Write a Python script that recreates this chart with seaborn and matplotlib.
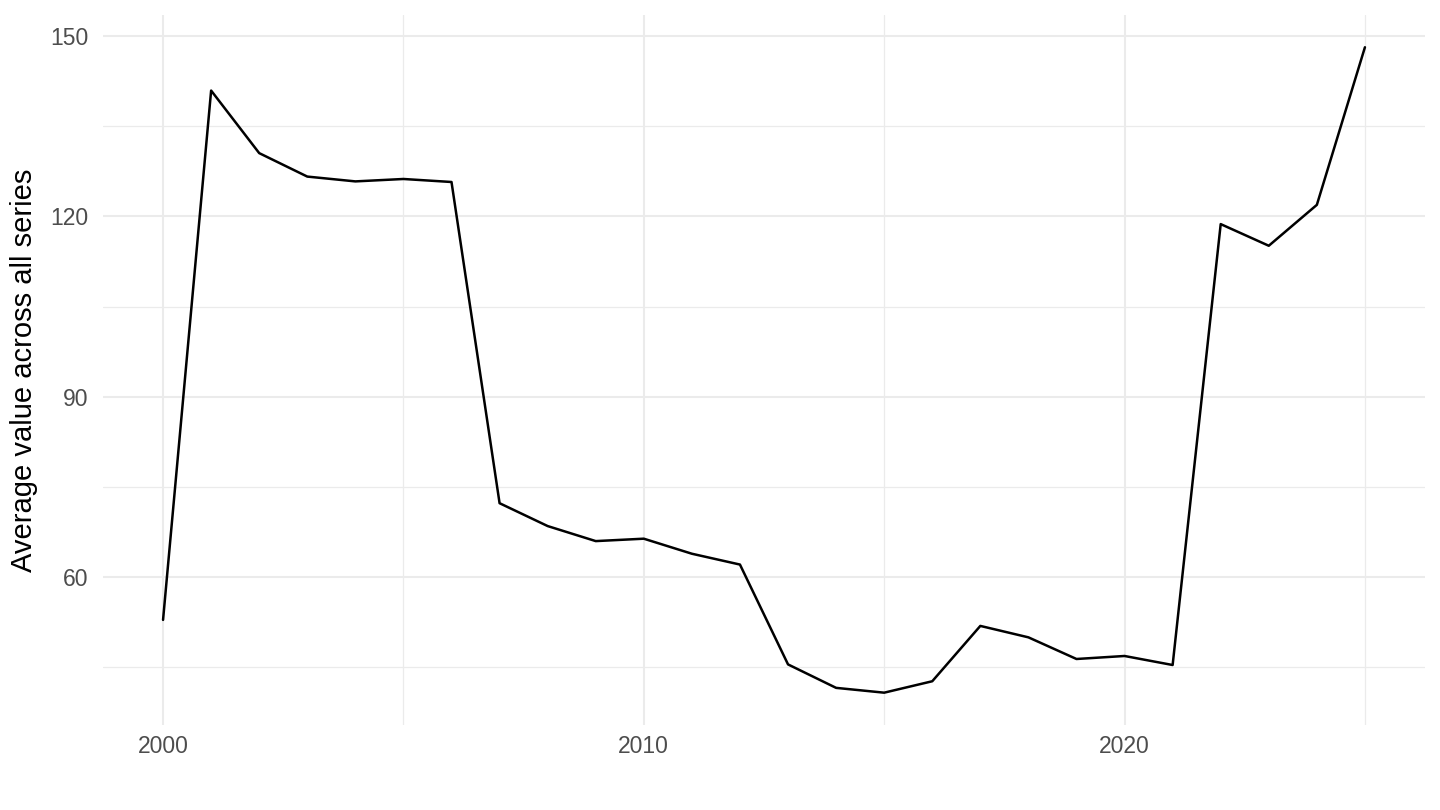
import numpy as np
import pandas as pd
import seaborn as sns
import matplotlib
matplotlib.use("Agg")
from matplotlib import pyplot as plt
from matplotlib.ticker import MultipleLocator

# data
years = list(range(2000, 2026))
avg_values = [52.9, 140.9, 130.5, 126.6, 125.8, 126.2, 125.7, 72.3, 68.5, 66.0,
              66.4, 63.9, 62.1, 45.5, 41.6, 40.8, 42.7, 51.9, 50.0, 46.4,
              46.9, 45.4, 118.7, 115.1, 121.9, 148.1]

df = pd.DataFrame({"year": years, "value": avg_values})

sns.set_theme(style="white")
plt.rcParams["font.family"] = ["Liberation Sans", "DejaVu Sans"]

fig = plt.figure(figsize=(14.4, 8.1), dpi=100)
ax = fig.add_axes([0.0715, 0.105, 0.9181, 0.8765])

sns.lineplot(data=df, x="year", y="value", color="black", linewidth=1.8, ax=ax)

# ggplot-style expansion of 5%
xr = max(years) - min(years)
yr = max(avg_values) - min(avg_values)
ax.set_xlim(min(years) - 0.05 * xr, max(years) + 0.05 * xr)
ax.set_ylim(min(avg_values) - 0.05 * yr, max(avg_values) + 0.05 * yr)

ax.xaxis.set_major_locator(MultipleLocator(10))
ax.xaxis.set_minor_locator(MultipleLocator(5))
ax.yaxis.set_major_locator(MultipleLocator(30))
ax.yaxis.set_minor_locator(MultipleLocator(15))

ax.grid(which="major", color="#EBEBEB", linewidth=1.5)
ax.grid(which="minor", color="#EBEBEB", linewidth=0.9)
ax.set_axisbelow(True)
for s in ax.spines.values():
    s.set_visible(False)

ax.tick_params(which="both", length=0, labelsize=16.5, labelcolor="#4D4D4D")
ax.tick_params(axis="y", pad=10.5)
ax.tick_params(axis="x", pad=7)
ax.set_xlabel("")
ax.set_ylabel("Average value across all series", fontsize=21, color="black")
ax.yaxis.set_label_coords(-0.049, 0.5)

fig.savefig("out.png", dpi=100)
